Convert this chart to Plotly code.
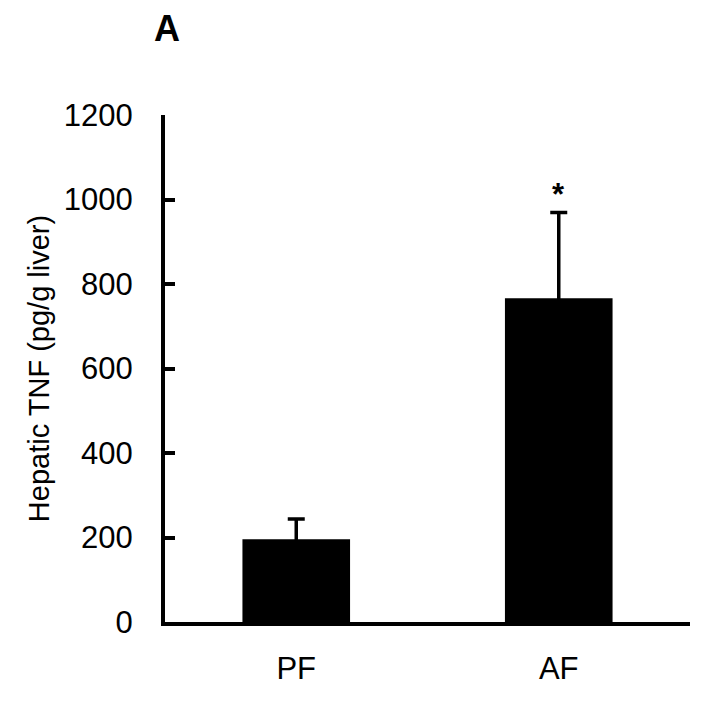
import plotly.graph_objects as go

categories = ["PF", "AF"]
values = [196, 766]
errors = [48, 203]
y_ticks = [0, 200, 400, 600, 800, 1000, 1200]
significance = ["", "*"]

FONT = "Liberation Sans, Arial"

fig = go.Figure()
fig.add_trace(go.Bar(
    x=categories, y=values,
    marker=dict(color="black", line=dict(width=0)),
    width=0.41,
    error_y=dict(type="data", array=errors, symmetric=True,
                 color="black", thickness=3.5, width=8.5),
))

for c, v, e, s in zip(categories, values, errors, significance):
    if s:
        fig.add_annotation(x=c, y=v + e, text="<b>" + s + "</b>", showarrow=False, yshift=18,
                           font=dict(size=31, color="black", family=FONT))

fig.add_annotation(xref="paper", yref="paper", x=0.004, y=1.0, yshift=87,
                   xanchor="center", yanchor="middle",
                   text="<b>A</b>", showarrow=False,
                   font=dict(size=36, color="black", family=FONT))

fig.update_layout(
    width=723, height=704,
    margin=dict(l=157, r=41, t=107, b=90),
    paper_bgcolor="white", plot_bgcolor="white",
    showlegend=False,
    font=dict(family=FONT, color="black"),
    xaxis=dict(range=[-0.5, 1.5], showline=True, linecolor="black", linewidth=4,
               ticks="", tickfont=dict(size=31), ticklabelstandoff=16, showgrid=False,
               zeroline=False),
    yaxis=dict(range=[0, 1200], tickvals=y_ticks, showline=True, linecolor="black",
               linewidth=4, ticks="inside", ticklen=10, tickwidth=4, tickcolor="black",
               tickfont=dict(size=31), ticklabelstandoff=22, showgrid=False, zeroline=False,
               title=dict(text="Hepatic TNF (pg/g liver)", font=dict(size=29), standoff=7)),
)

fig.write_html("out.html")
